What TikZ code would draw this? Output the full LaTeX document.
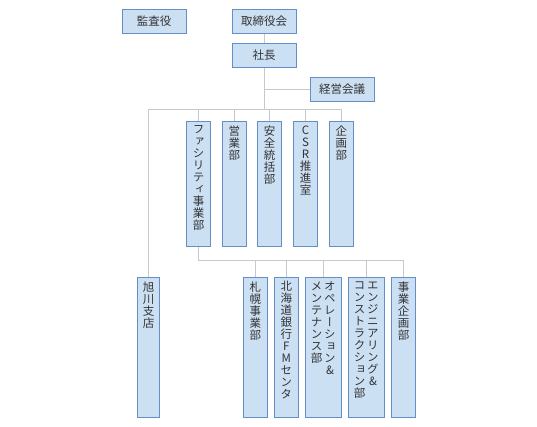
\documentclass[tikz,border=0pt]{standalone}
\usepackage{fontspec}
\newfontfamily\jpfont{Noto Sans CJK JP}
\newfontfamily\jpvert[RawFeature=+vert]{Noto Sans CJK JP}
\definecolor{unitfill}{RGB}{204,224,244}
\definecolor{unitdraw}{RGB}{102,142,198}
\definecolor{linkgray}{RGB}{200,200,200}
\definecolor{textgray}{RGB}{51,51,51}
% one column of stacked characters
\newcommand\vcol[1]{\parbox[t]{12pt}{\jpvert\fontsize{11.5}{12}\selectfont\lineskiplimit=-\maxdimen\centering #1}}
% box body: width, height, columns
\newcommand\stackbox[3]{\parbox[c][#2][t]{#1}{\centering\vspace*{4.5pt}#3}}
\tikzset{
  unit/.style={draw=unitdraw, fill=unitfill, line width=1pt, inner sep=0pt, text=textgray},
  hunit/.style={unit, minimum width=64pt, minimum height=24pt, font=\jpfont\fontsize{11.5}{12}\selectfont},
  vunit/.style={unit, anchor=north},
  link/.style={draw=linkgray, line width=1pt},
}
\begin{document}
\begin{tikzpicture}[x=1pt,y=-1pt]
\useasboundingbox (0,0) rectangle (537,426);
%%
\node (kansa) at (154,21.3) [hunit] {監査役};
\node (torishimari) at (264.2,21.3) [hunit] {取締役会};
\node (shacho) at (264.2,55.3) [hunit] {社長};
\node (keiei) at (342.2,89.3) [hunit] {経営会議};
%
\node (facility) at (198.5,121) [vunit] {\stackbox{24pt}{125pt}{\vcol{フ\\ァ\\シ\\リ\\テ\\ィ\\事\\業\\部}}};
\node (eigyo) at (234.3,121) [vunit] {\stackbox{24pt}{125pt}{\vcol{営\\業\\部}}};
\node (anzen) at (269.5,121) [vunit] {\stackbox{24pt}{125pt}{\vcol{安\\全\\統\\括\\部}}};
\node (csr) at (305.5,121) [vunit] {\stackbox{24pt}{125pt}{\vcol{C\\S\\R\\推\\進\\室}}};
\node (kikaku) at (341.3,121) [vunit] {\stackbox{24pt}{125pt}{\vcol{企\\画\\部}}};
%
\node (asahikawa) at (148.5,277) [vunit] {\stackbox{22pt}{140pt}{\vcol{旭\\川\\支\\店}}};
\node (sapporo) at (255.3,276.5) [vunit] {\stackbox{24pt}{140pt}{\vcol{札\\幌\\事\\業\\部}}};
\node (dogin) at (286.3,276.5) [vunit] {\stackbox{24pt}{140pt}{\vcol{北\\海\\道\\銀\\行\\F\\M\\セ\\ン\\タ}}};
\node (om) at (323.3,276.5) [vunit] {\stackbox{36pt}{140pt}{\vcol{メ\\ン\\テ\\ナ\\ン\\ス\\部}\hspace{1.3pt}\vcol{オ\\ペ\\レ\\ー\\シ\\ョ\\ン\\\&}}};
\node (ec) at (366.3,276.5) [vunit] {\stackbox{36pt}{140pt}{\vcol{コ\\ン\\ス\\ト\\ラ\\ク\\シ\\ョ\\ン\\部}\hspace{1.3pt}\vcol{エ\\ン\\ジ\\ニ\\ア\\リ\\ン\\グ\\\&}}};
\node (jigyokikaku) at (403.5,276.5) [vunit] {\stackbox{24pt}{140pt}{\vcol{事\\業\\企\\画\\部}}};
%
\coordinate (bus) at (264.2,109);
\coordinate (subbus) at (198.5,260);
\draw [link] (torishimari) -- (shacho);
\draw [link] (shacho) -- (bus);
\draw [link] (keiei) -- (keiei -| shacho);
\draw [link] (bus -| asahikawa) -- (bus -| kikaku);
\foreach \n in {asahikawa,facility,eigyo,anzen,csr,kikaku}
  \draw [link] (bus -| \n) -- (\n);
\draw [link] (facility) -- (subbus) -- (subbus -| jigyokikaku);
\foreach \n in {sapporo,dogin,om,ec,jigyokikaku}
  \draw [link] (subbus -| \n) -- (\n);
%
\end{tikzpicture}
\end{document}
